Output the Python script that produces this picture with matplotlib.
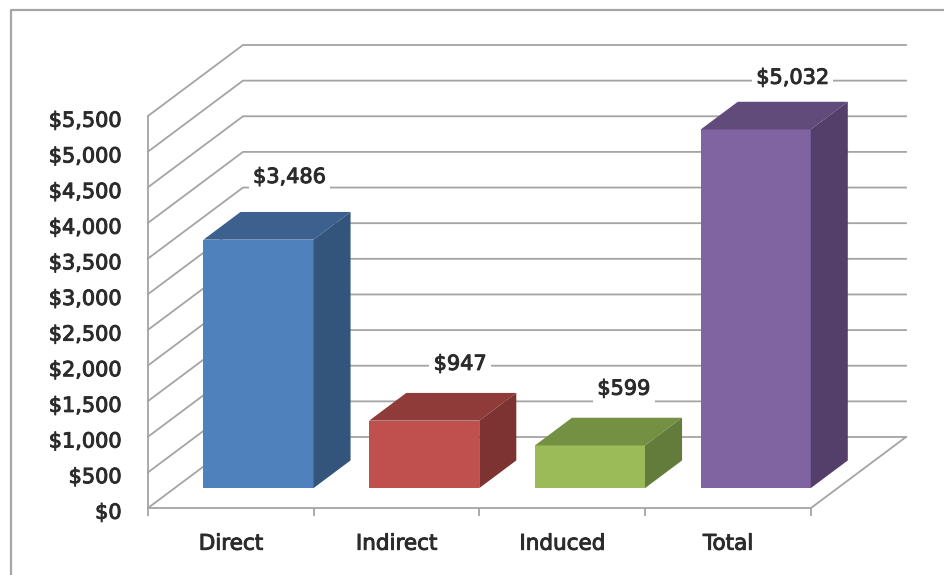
import matplotlib
matplotlib.use("Agg")
import numpy as np
import matplotlib.pyplot as plt
import matplotlib.patheffects as pe
from matplotlib.lines import Line2D
from matplotlib.patches import Polygon
from matplotlib.transforms import ScaledTranslation

# --- data ---
categories = ['Direct', 'Indirect', 'Induced', 'Total']
values = [3486, 947, 599, 5032]
y_ticks = list(range(0, 5501, 500))
value_labels = ['$3,486', '$947', '$599', '$5,032']

front_colors = ['#4F81BD', '#C0504D', '#9BBB59', '#8064A2']
top_colors = ['#3C618F', '#8F3B39', '#749043', '#614B7B']
side_colors = ['#33547B', '#7C3331', '#647C3B', '#533F69']

# label offsets from the bar's back top corner centre (px)
label_dx = [32, 37, 35, 38]
label_dy = [35, 29, 29, 24]

W, H = 945, 575
GRID = '#A4A4A4'
TXT = '#2b2b2b'

plt.rcParams['font.family'] = ['DejaVu Sans']

# regular weight with a thin outline, the original text is a soft semi-bold
heavy = [pe.withStroke(linewidth=0.7, foreground=TXT)]

fig = plt.figure(figsize=(W / 100, H / 100), dpi=100)
fig.patch.set_facecolor('white')

# chart frame, runs off the image at right and bottom
fig.add_artist(Line2D([11 / W, 11 / W, 1], [0, 1 - 10 / H, 1 - 10 / H], color='#A6A6A6', lw=1.6))

# front plane of the fake 3D box
ax = fig.add_axes([148 / W, 1 - 508 / H, (811 - 148) / W, (508 - 116) / H])
ax.set_xlim(0, 4)
ax.set_ylim(0, 5500)
ax.patch.set_visible(False)

# depth of the floor in data units
px_x = 4 / (811 - 148)
px_y = 5500 / (508 - 116)
depth_x = 95 * px_x
depth_y = 71 * px_y

for v in y_ticks:
    ax.plot([0, depth_x, 4 + depth_x], [v, v + depth_y, v + depth_y], color=GRID, lw=1.3,
            clip_on=False, zorder=1, solid_joinstyle='miter')
ax.plot([4, 4 + depth_x], [0, depth_y], color=GRID, lw=1.3, clip_on=False, zorder=1)

# bars: front face sits part way into the floor
z0 = 0.28
z1 = 0.67
bar_w = 0.664
centers = np.arange(len(values)) + 0.5

for i, v in enumerate(values):
    x0 = centers[i] - bar_w / 2 + z0 * depth_x + 1 * px_x
    x1 = x0 + bar_w
    y0 = z0 * depth_y
    ax.bar(x0, v, bar_w, bottom=y0, align='edge', color=front_colors[i], clip_on=False, zorder=3)
    ddx = (z1 - z0) * depth_x
    ddy = (z1 - z0) * depth_y
    top = [(x0, y0 + v), (x1, y0 + v), (x1 + ddx, y0 + v + ddy), (x0 + ddx, y0 + v + ddy)]
    side = [(x1, y0), (x1 + ddx, y0 + ddy), (x1 + ddx, y0 + v + ddy), (x1, y0 + v)]
    ax.add_patch(Polygon(top, closed=True, fc=top_colors[i], ec='none', clip_on=False, zorder=3))
    ax.add_patch(Polygon(side, closed=True, fc=side_colors[i], ec='none', clip_on=False, zorder=3))

    ax.annotate(value_labels[i], xy=(centers[i] + z0 * depth_x, y0 + v + ddy),
                xytext=(label_dx[i] * 0.72, label_dy[i] * 0.72), textcoords='offset points',
                ha='center', va='center', fontsize=15, color=TXT, path_effects=heavy,
                bbox=dict(fc='white', ec='none', pad=3), annotation_clip=False, zorder=4)

# axes
for s in ['top', 'right']:
    ax.spines[s].set_visible(False)
for s in ['left', 'bottom']:
    ax.spines[s].set_color(GRID)
    ax.spines[s].set_linewidth(1.3)

ax.set_yticks(y_ticks)
ax.set_yticklabels(['${:,}'.format(v) for v in y_ticks], fontsize=15, color=TXT, path_effects=heavy)
ax.tick_params(axis='y', length=0, pad=19)
# labels sit a little under their gridline in the reference
shift = ScaledTranslation(0, -2 / 72, fig.dpi_scale_trans)
for lab in ax.get_yticklabels():
    lab.set_transform(lab.get_transform() + shift)

ax.set_xticks(range(5))
ax.set_xticklabels([])
ax.set_xticks(np.arange(4) + 0.5, minor=True)
ax.set_xticklabels(categories, minor=True, fontsize=15.5, color=TXT, path_effects=heavy)
ax.tick_params(axis='x', which='major', length=6, width=1.3, color=GRID)
ax.tick_params(axis='x', which='minor', length=0, pad=18.5)

fig.savefig('out.png', dpi=100)
